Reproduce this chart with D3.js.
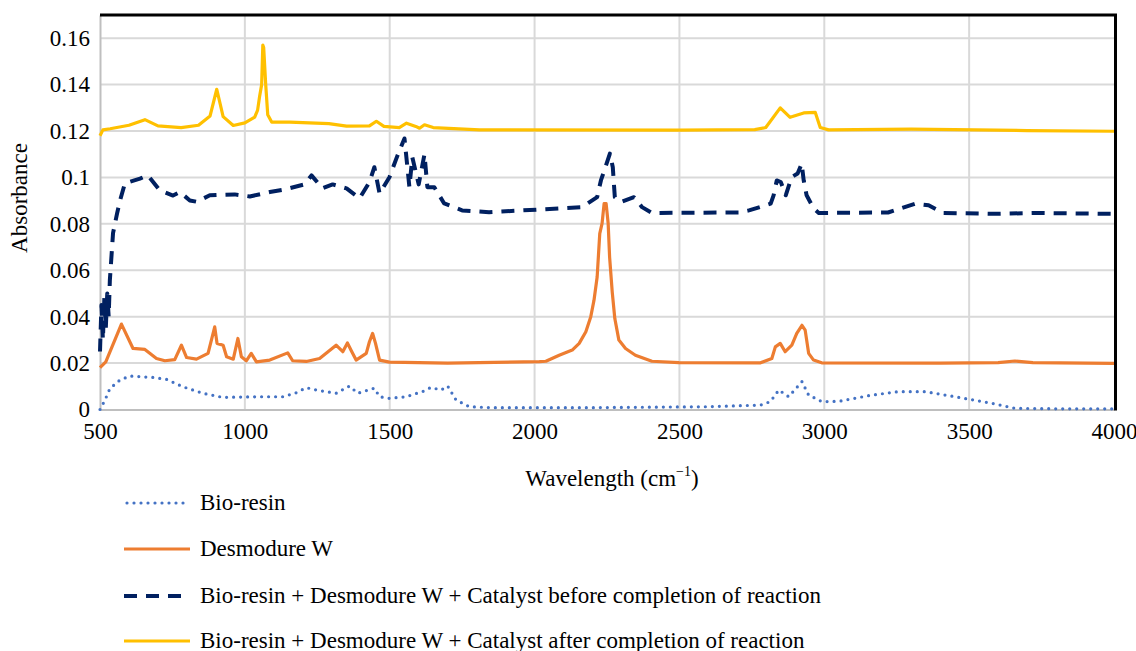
<!DOCTYPE html>
<html>
<head>
<meta charset="utf-8">
<script src="https://cdn.jsdelivr.net/npm/d3@7"></script>
<style>
  body { margin: 0; background: #fff; }
  #chart, #chart text, #chart tspan { font-family: 'Liberation Serif', 'Tinos', 'Times New Roman' !important; }
</style>
</head>
<body>
<svg id="chart" width="1136" height="651" font-family="Liberation Serif"></svg>
<script>
'use strict'

// Bio-resin (dotted blue)
const bioWave = [500, 517, 534, 569, 603, 683, 729, 786, 855, 924, 1040, 1131, 1177, 1212, 1246, 1315, 1361, 1390, 1447, 1465, 1499, 1556, 1613, 1642, 1677, 1700, 1729, 1775, 1850, 2200, 2600, 2780, 2814, 2843, 2877, 2923, 2946, 2992, 3049, 3164, 3256, 3348, 3451, 3578, 3658, 3800, 4000]
const bioAbs = [0, 0.004, 0.009, 0.0127, 0.0144, 0.0138, 0.013, 0.0098, 0.007, 0.0052, 0.0055, 0.0055, 0.0072, 0.0094, 0.0084, 0.007, 0.0101, 0.007, 0.0092, 0.0055, 0.0048, 0.0055, 0.0077, 0.0095, 0.0084, 0.0101, 0.0041, 0.0012, 0.0008, 0.0008, 0.0012, 0.0019, 0.0034, 0.0084, 0.0055, 0.012, 0.0062, 0.0034, 0.0035, 0.0062, 0.0077, 0.0077, 0.0055, 0.0027, 0.0005, 0.0003, 0.0003]

// Desmodure W (solid orange)
const desWave = [500, 520, 574, 614, 655, 695, 724, 758, 781, 799, 833, 873, 896, 904, 925, 937, 960, 976, 988, 1005, 1022, 1040, 1086, 1148, 1165, 1212, 1258, 1315, 1338, 1354, 1367, 1384, 1419, 1430, 1441, 1451, 1465, 1499, 1700, 2017, 2039, 2085, 2130, 2154, 2177, 2194, 2205, 2216, 2225, 2233, 2240, 2247, 2254, 2259, 2268, 2277, 2291, 2314, 2348, 2405, 2498, 2780, 2819, 2831, 2848, 2865, 2888, 2905, 2923, 2934, 2946, 2963, 2991, 3400, 3600, 3658, 3720, 4000]
const desAbs = [0.018, 0.0205, 0.0368, 0.0263, 0.0259, 0.022, 0.021, 0.0215, 0.0277, 0.0224, 0.0217, 0.0242, 0.0356, 0.0285, 0.0277, 0.0227, 0.0217, 0.0306, 0.0227, 0.021, 0.0242, 0.0205, 0.0213, 0.0244, 0.021, 0.0207, 0.022, 0.0277, 0.0249, 0.0287, 0.0254, 0.0213, 0.0242, 0.0292, 0.0328, 0.0285, 0.0213, 0.0204, 0.02, 0.0206, 0.0208, 0.0234, 0.0256, 0.0285, 0.0335, 0.04, 0.047, 0.0571, 0.0758, 0.0802, 0.0887, 0.0887, 0.0802, 0.0657, 0.0507, 0.0392, 0.0299, 0.0263, 0.0234, 0.0208, 0.0202, 0.0201, 0.022, 0.027, 0.0285, 0.0249, 0.0277, 0.0328, 0.0363, 0.0342, 0.0242, 0.0213, 0.0201, 0.02, 0.0202, 0.0209, 0.0202, 0.0199]

// Bio-resin + Desmodure W + Catalyst before completion (dashed navy)
const beforeWave = [500, 505, 510, 515, 520, 525, 530, 534, 545, 559, 569, 586, 638, 665, 707, 752, 776, 810, 834, 879, 913, 965, 1017, 1086, 1137, 1206, 1230, 1268, 1303, 1351, 1396, 1430, 1447, 1465, 1499, 1527, 1551, 1568, 1578, 1600, 1620, 1630, 1654, 1688, 1750, 1843, 2164, 2216, 2229, 2243, 2260, 2270, 2277, 2298, 2343, 2371, 2405, 2705, 2740, 2815, 2825, 2836, 2850, 2867, 2887, 2908, 2922, 2929, 2939, 2963, 2981, 3220, 3315, 3360, 3410, 3600, 3720, 4000]
const beforeAbs = [0.025, 0.045, 0.03, 0.048, 0.035, 0.05, 0.04, 0.0557, 0.076, 0.0845, 0.09, 0.0975, 0.0995, 0.1009, 0.0944, 0.0922, 0.0937, 0.0901, 0.0895, 0.0923, 0.0925, 0.0927, 0.0918, 0.0937, 0.0948, 0.097, 0.1009, 0.0953, 0.097, 0.0953, 0.091, 0.098, 0.1044, 0.0931, 0.1001, 0.1095, 0.1168, 0.0958, 0.1087, 0.097, 0.11, 0.0958, 0.0958, 0.0888, 0.0858, 0.085, 0.0872, 0.0915, 0.0987, 0.1039, 0.1103, 0.1044, 0.0915, 0.0894, 0.0915, 0.0872, 0.0847, 0.0849, 0.0858, 0.0887, 0.0923, 0.0987, 0.098, 0.0923, 0.1001, 0.1017, 0.106, 0.0987, 0.0923, 0.0867, 0.0847, 0.0849, 0.0887, 0.088, 0.0847, 0.0843, 0.0847, 0.0843]

// Bio-resin + Desmodure W + Catalyst after completion (solid yellow)
const afterWave = [500, 510, 535, 600, 655, 700, 780, 840, 880, 903, 925, 960, 1000, 1034, 1044, 1051, 1058, 1062, 1065, 1072, 1079, 1093, 1155, 1290, 1351, 1430, 1454, 1480, 1533, 1558, 1590, 1603, 1620, 1650, 1810, 2500, 2760, 2798, 2848, 2882, 2929, 2969, 2986, 3015, 3300, 3700, 4000]
const afterAbs = [0.118, 0.1205, 0.121, 0.1225, 0.1249, 0.1222, 0.1215, 0.1225, 0.1265, 0.138, 0.1262, 0.1224, 0.1235, 0.126, 0.129, 0.135, 0.14, 0.157, 0.156, 0.14, 0.127, 0.1238, 0.1238, 0.1232, 0.1221, 0.1222, 0.1242, 0.122, 0.1215, 0.1234, 0.122, 0.1212, 0.1227, 0.1215, 0.1205, 0.1204, 0.1206, 0.1215, 0.130, 0.1259, 0.1278, 0.128, 0.1215, 0.1205, 0.1208, 0.1202, 0.1199]

const seriesNames = [
    'Bio-resin',
    'Desmodure W',
    'Bio-resin + Desmodure W + Catalyst before completion of reaction',
    'Bio-resin + Desmodure W + Catalyst after completion of reaction'
]
const xTicks = [500, 1000, 1500, 2000, 2500, 3000, 3500, 4000]
const yTicks = [0, 0.02, 0.04, 0.06, 0.08, 0.1, 0.12, 0.14, 0.16]

const plotLeft = 100
const plotRight = 1114
const plotTop = 15
const plotBottom = 409.5
const fontSize = 23

const svg = d3.select('#chart')

const x = d3.scaleLinear().domain([500, 4000]).range([plotLeft, plotRight])
const y = d3.scaleLinear().domain([0, 0.17]).range([plotBottom, plotTop])

// grid
svg.append('g')
    .selectAll('line')
    .data(yTicks.slice(1))
    .join('line')
    .attr('x1', plotLeft).attr('x2', plotRight)
    .attr('y1', d => y(d)).attr('y2', d => y(d))
    .attr('stroke', '#d9d9d9')
    .attr('stroke-width', 2)

svg.append('g')
    .selectAll('line')
    .data(xTicks.slice(1, -1))
    .join('line')
    .attr('x1', d => x(d)).attr('x2', d => x(d))
    .attr('y1', plotTop).attr('y2', plotBottom)
    .attr('stroke', '#d9d9d9')
    .attr('stroke-width', 2)

// axes
const xAxis = svg.append('g')
    .attr('transform', `translate(0,${plotBottom})`)
    .call(d3.axisBottom(x).tickValues(xTicks).tickSize(0).tickPadding(13).tickFormat(d3.format('d')))
xAxis.attr('font-family', 'Liberation Serif').attr('font-size', fontSize)
xAxis.select('.domain').attr('stroke', '#bfbfbf').attr('stroke-width', 2)
xAxis.selectAll('text').attr('fill', '#000')

const yAxis = svg.append('g')
    .attr('transform', `translate(${plotLeft},0)`)
    .call(d3.axisLeft(y).tickValues(yTicks).tickSize(0).tickPadding(10).tickFormat(d => d === 0 ? '0' : String(d)))
yAxis.attr('font-family', 'Liberation Serif').attr('font-size', fontSize)
yAxis.select('.domain').attr('stroke', '#bfbfbf').attr('stroke-width', 2)
yAxis.selectAll('text').attr('fill', '#000')

// frame top / right
svg.append('line')
    .attr('x1', plotLeft).attr('x2', plotRight + 3)
    .attr('y1', plotTop).attr('y2', plotTop)
    .attr('stroke', '#000').attr('stroke-width', 3)
svg.append('line')
    .attr('x1', plotRight + 1.5).attr('x2', plotRight + 1.5)
    .attr('y1', plotTop).attr('y2', plotBottom + 1)
    .attr('stroke', '#000').attr('stroke-width', 3)

// series
const styles = [
    { color: '#4472c4', width: 3.2, dash: '0 7', cap: 'round' },
    { color: '#ed7d31', width: 3.2, dash: null, cap: 'butt' },
    { color: '#002060', width: 4, dash: '13 9', cap: 'butt' },
    { color: '#ffc000', width: 3.2, dash: null, cap: 'butt' }
]
const waves = [bioWave, desWave, beforeWave, afterWave]
const absorb = [bioAbs, desAbs, beforeAbs, afterAbs]

const line = d3.line()
    .x(d => x(d[0]))
    .y(d => y(d[1]))

const series = waves.map((w, i) => w.map((v, j) => [v, absorb[i][j]]))

svg.append('g')
    .selectAll('path')
    .data(series)
    .join('path')
    .attr('d', line)
    .attr('fill', 'none')
    .attr('stroke', (d, i) => styles[i].color)
    .attr('stroke-width', (d, i) => styles[i].width)
    .attr('stroke-dasharray', (d, i) => styles[i].dash)
    .attr('stroke-linecap', (d, i) => styles[i].cap)
    .attr('stroke-linejoin', 'round')

// axis titles
svg.append('text')
    .attr('transform', 'translate(27,198) rotate(-90)')
    .attr('text-anchor', 'middle')
    .attr('font-size', fontSize)
    .text('Absorbance')

const xt = svg.append('text')
    .attr('x', 612)
    .attr('y', 486)
    .attr('text-anchor', 'middle')
    .attr('font-size', fontSize)
xt.append('tspan').text('Wavelength (cm')
xt.append('tspan').attr('font-size', 14).attr('dy', -10).text('\u22121')
xt.append('tspan').attr('dy', 10).text(')')

// legend
const legendY = [503, 549, 596, 641]
const legend = svg.append('g')
    .selectAll('g')
    .data(seriesNames)
    .join('g')
    .attr('transform', (d, i) => `translate(0,${legendY[i]})`)

legend.append('line')
    .attr('x1', (d, i) => i === 0 ? 127 : 124)
    .attr('x2', 190)
    .attr('y1', 0).attr('y2', 0)
    .attr('stroke', (d, i) => styles[i].color)
    .attr('stroke-width', (d, i) => styles[i].width)
    .attr('stroke-dasharray', (d, i) => i === 0 ? '0 7' : (i === 2 ? '13 9' : null))
    .attr('stroke-linecap', (d, i) => styles[i].cap)

legend.append('text')
    .attr('x', 200)
    .attr('y', 7)
    .attr('font-size', fontSize)
    .text(d => d)
</script>
</body>
</html>
